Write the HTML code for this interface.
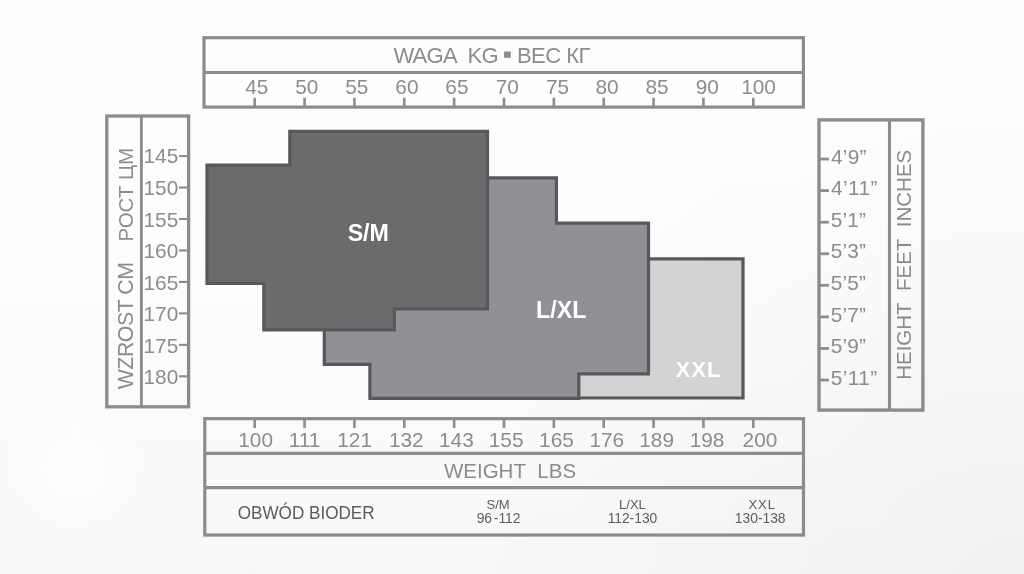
<!DOCTYPE html>
<html><head><meta charset="utf-8"><style>
html,body{margin:0;padding:0;}
body{width:1024px;height:574px;overflow:hidden;background:#fbfbfb;}
svg{display:block;will-change:transform;}
text{font-family:"Liberation Sans",Arial,sans-serif;}
.n{font-size:20.8px;fill:#8b8c90;}
.t{font-size:20.5px;fill:#8b8c90;}
.s{font-size:17.1px;fill:#5c5c5f;}
.s2{font-size:13px;fill:#5c5c5f;}
.s3{font-size:13.8px;fill:#5c5c5f;}
.b{font-size:23.2px;font-weight:bold;fill:#fff;}

</style></head><body>
<svg width="1024" height="574" viewBox="0 0 1024 574">
<defs>
<linearGradient id="bg" x1="0" y1="0" x2="0" y2="1"><stop offset="0" stop-color="#fefefe"/><stop offset="0.45" stop-color="#fdfdfd"/><stop offset="1" stop-color="#f8f8f8"/></linearGradient>
<radialGradient id="hl" cx="1024" cy="574" r="560" gradientUnits="userSpaceOnUse"><stop offset="0" stop-color="#000" stop-opacity="0.03"/><stop offset="1" stop-color="#000" stop-opacity="0"/></radialGradient>
<radialGradient id="hw" cx="75" cy="470" r="75" gradientUnits="userSpaceOnUse"><stop offset="0" stop-color="#fff" stop-opacity="0.75"/><stop offset="0.6" stop-color="#fff" stop-opacity="0.4"/><stop offset="1" stop-color="#fff" stop-opacity="0"/></radialGradient>
</defs>
<rect class="bgr" width="1024" height="574" fill="url(#bg)"/>
<rect class="bgr" width="1024" height="574" fill="url(#hl)"/>
<rect class="bgr" width="1024" height="574" fill="url(#hw)"/>
<rect x="204.0" y="37.7" width="599.4" height="69.4" fill="none" stroke="#8b8c90" stroke-width="3.2"/>
<line x1="204" y1="72.45" x2="803.4" y2="72.45" stroke="#8b8c90" stroke-width="3.1"/>
<rect x="253.40" y="97.75" width="2.6" height="8.5" fill="#8b8c90"/>
<text x="256.86" y="94.08" class="n" text-anchor="middle" style="">45</text>
<rect x="303.26" y="97.75" width="2.6" height="8.5" fill="#8b8c90"/>
<text x="306.73" y="94.08" class="n" text-anchor="middle" style="">50</text>
<rect x="353.12" y="97.75" width="2.6" height="8.5" fill="#8b8c90"/>
<text x="356.76" y="94.08" class="n" text-anchor="middle" style="">55</text>
<rect x="402.98" y="97.75" width="2.6" height="8.5" fill="#8b8c90"/>
<text x="406.93" y="94.08" class="n" text-anchor="middle" style="">60</text>
<rect x="452.84" y="97.75" width="2.6" height="8.5" fill="#8b8c90"/>
<text x="456.89" y="94.08" class="n" text-anchor="middle" style="">65</text>
<rect x="502.70" y="97.75" width="2.6" height="8.5" fill="#8b8c90"/>
<text x="507.36" y="94.08" class="n" text-anchor="middle" style="">70</text>
<rect x="552.56" y="97.75" width="2.6" height="8.5" fill="#8b8c90"/>
<text x="557.61" y="94.08" class="n" text-anchor="middle" style="">75</text>
<rect x="602.42" y="97.75" width="2.6" height="8.5" fill="#8b8c90"/>
<text x="606.99" y="94.08" class="n" text-anchor="middle" style="">80</text>
<rect x="652.28" y="97.75" width="2.6" height="8.5" fill="#8b8c90"/>
<text x="657.08" y="94.08" class="n" text-anchor="middle" style="">85</text>
<rect x="702.14" y="97.75" width="2.6" height="8.5" fill="#8b8c90"/>
<text x="707.24" y="94.08" class="n" text-anchor="middle" style="">90</text>
<rect x="752.00" y="97.75" width="2.6" height="8.5" fill="#8b8c90"/>
<text x="758.50" y="94.08" class="n" text-anchor="middle" style="">100</text>
<text x="445.63" y="62.92" class="t" text-anchor="middle" style="font-size:22px;letter-spacing:-0.75px">WAGA&#160; KG</text>
<text x="553.39" y="62.92" class="t" text-anchor="middle" style="font-size:22px;letter-spacing:-0.52px">ВЕС КГ</text>
<rect x="504.1" y="51.5" width="6.7" height="6.3" fill="#8b8c90"/>
<rect x="106.8" y="116.0" width="81.8" height="290.8" fill="none" stroke="#8b8c90" stroke-width="3.3"/>
<line x1="141.4" y1="116" x2="141.4" y2="407" stroke="#8b8c90" stroke-width="2.9"/>
<rect x="179.0" y="155.05" width="8.5" height="2.1" fill="#8b8c90"/>
<text x="160.90" y="163.28" class="n" text-anchor="middle" style="">145</text>
<rect x="179.0" y="186.51" width="8.5" height="2.1" fill="#8b8c90"/>
<text x="160.88" y="195.05" class="n" text-anchor="middle" style="">150</text>
<rect x="179.0" y="217.97" width="8.5" height="2.1" fill="#8b8c90"/>
<text x="160.90" y="226.96" class="n" text-anchor="middle" style="">155</text>
<rect x="179.0" y="249.43" width="8.5" height="2.1" fill="#8b8c90"/>
<text x="160.88" y="257.86" class="n" text-anchor="middle" style="">160</text>
<rect x="179.0" y="280.89" width="8.5" height="2.1" fill="#8b8c90"/>
<text x="160.90" y="289.77" class="n" text-anchor="middle" style="">165</text>
<rect x="179.0" y="312.35" width="8.5" height="2.1" fill="#8b8c90"/>
<text x="160.88" y="320.96" class="n" text-anchor="middle" style="">170</text>
<rect x="179.0" y="343.81" width="8.5" height="2.1" fill="#8b8c90"/>
<text x="160.90" y="352.63" class="n" text-anchor="middle" style="">175</text>
<rect x="179.0" y="375.27" width="8.5" height="2.1" fill="#8b8c90"/>
<text x="160.88" y="384.42" class="n" text-anchor="middle" style="">180</text>
<text transform="translate(133.34,325.89) rotate(-90)" class="t" text-anchor="middle" style="font-size:21.3px;letter-spacing:-0.45px">WZROST CM</text>
<text transform="translate(132.70,194.72) rotate(-90)" class="t" text-anchor="middle" style="">РОСТ ЦМ</text>
<rect x="819.0" y="119.9" width="103.9" height="290.2" fill="none" stroke="#8b8c90" stroke-width="3.4"/>
<line x1="889.5" y1="120" x2="889.5" y2="411" stroke="#8b8c90" stroke-width="3.1"/>
<rect x="820" y="157.65" width="8.9" height="2.8" fill="#8b8c90"/>
<text x="848.79" y="163.95" class="n" text-anchor="middle" style="letter-spacing:0.2px">4’9”</text>
<rect x="820" y="189.22" width="8.9" height="2.8" fill="#8b8c90"/>
<text x="854.52" y="194.95" class="n" text-anchor="middle" style="letter-spacing:0.45px">4’11”</text>
<rect x="820" y="220.79" width="8.9" height="2.8" fill="#8b8c90"/>
<text x="848.44" y="226.58" class="n" text-anchor="middle" style="letter-spacing:0.2px">5’1”</text>
<rect x="820" y="252.36" width="8.9" height="2.8" fill="#8b8c90"/>
<text x="848.44" y="258.28" class="n" text-anchor="middle" style="letter-spacing:0.2px">5’3”</text>
<rect x="820" y="283.93" width="8.9" height="2.8" fill="#8b8c90"/>
<text x="848.44" y="290.01" class="n" text-anchor="middle" style="letter-spacing:0.2px">5’5”</text>
<rect x="820" y="315.50" width="8.9" height="2.8" fill="#8b8c90"/>
<text x="848.44" y="321.86" class="n" text-anchor="middle" style="letter-spacing:0.2px">5’7”</text>
<rect x="820" y="347.07" width="8.9" height="2.8" fill="#8b8c90"/>
<text x="848.44" y="353.39" class="n" text-anchor="middle" style="letter-spacing:0.2px">5’9”</text>
<rect x="820" y="378.64" width="8.9" height="2.8" fill="#8b8c90"/>
<text x="854.23" y="385.00" class="n" text-anchor="middle" style="letter-spacing:0.45px">5’11”</text>
<text transform="translate(910.76,264.82) rotate(-90)" class="t" text-anchor="middle" style="">HEIGHT&#160; FEET&#160; INCHES</text>
<rect x="204.8" y="418.65" width="598.7" height="116.4" fill="none" stroke="#8b8c90" stroke-width="3.2"/>
<line x1="205" y1="453.3" x2="804" y2="453.3" stroke="#8b8c90" stroke-width="3.3"/>
<line x1="205" y1="487.7" x2="804" y2="487.7" stroke="#8b8c90" stroke-width="3.3"/>
<rect x="253.40" y="419.5" width="2.6" height="8.4" fill="#8b8c90"/>
<text x="255.62" y="447.08" class="n" text-anchor="middle" style="">100</text>
<rect x="303.26" y="419.5" width="2.6" height="8.4" fill="#8b8c90"/>
<text x="304.48" y="447.08" class="n" text-anchor="middle" style="">111</text>
<rect x="353.12" y="419.5" width="2.6" height="8.4" fill="#8b8c90"/>
<text x="354.61" y="447.08" class="n" text-anchor="middle" style="">121</text>
<rect x="402.98" y="419.5" width="2.6" height="8.4" fill="#8b8c90"/>
<text x="406.23" y="447.08" class="n" text-anchor="middle" style="">132</text>
<rect x="452.84" y="419.5" width="2.6" height="8.4" fill="#8b8c90"/>
<text x="456.37" y="447.08" class="n" text-anchor="middle" style="">143</text>
<rect x="502.70" y="419.5" width="2.6" height="8.4" fill="#8b8c90"/>
<text x="506.15" y="447.08" class="n" text-anchor="middle" style="">155</text>
<rect x="552.56" y="419.5" width="2.6" height="8.4" fill="#8b8c90"/>
<text x="556.45" y="447.08" class="n" text-anchor="middle" style="">165</text>
<rect x="602.42" y="419.5" width="2.6" height="8.4" fill="#8b8c90"/>
<text x="606.78" y="447.08" class="n" text-anchor="middle" style="">176</text>
<rect x="652.28" y="419.5" width="2.6" height="8.4" fill="#8b8c90"/>
<text x="656.61" y="447.08" class="n" text-anchor="middle" style="">189</text>
<rect x="702.14" y="419.5" width="2.6" height="8.4" fill="#8b8c90"/>
<text x="707.03" y="447.08" class="n" text-anchor="middle" style="">198</text>
<rect x="752.00" y="419.5" width="2.6" height="8.4" fill="#8b8c90"/>
<text x="759.95" y="447.01" class="n" text-anchor="middle" style="">200</text>
<text x="510.02" y="478.08" class="t" text-anchor="middle" style="">WEIGHT&#160; LBS</text>
<text transform="translate(306.16,518.65) scale(0.94,1)" class="s" text-anchor="middle" style="font-size:18.2px">OBWÓD BIODER</text>
<text x="498.09" y="508.73" class="s2" text-anchor="middle" style="">S/M</text>
<text x="498.58" y="522.82" class="s3" text-anchor="middle" style="">96<tspan dx="1.6">-</tspan><tspan dx="0.2">112</tspan></text>
<text x="632.44" y="508.56" class="s2" text-anchor="middle" style="">L/XL</text>
<text x="632.44" y="522.75" class="s3" text-anchor="middle" style="">112-130</text>
<text x="762.15" y="508.68" class="s2" text-anchor="middle" style="letter-spacing:0.9px">XXL</text>
<text x="760.18" y="522.83" class="s3" text-anchor="middle" style="">130-138</text>
<path d="M560 258.8 H743 V398 H560 Z" fill="#d2d3d5" stroke="#58585b" stroke-width="3.2"/>
<path d="M480 177.9 H556.4 V223.2 H648.5 V373.9 H578.8 V398.4 H369.9 V364.3 H324.3 V300 H480 Z" fill="#909195" stroke="#58585b" stroke-width="3.2"/>
<path d="M207 165.1 H289.8 V131.3 H487.5 V308.9 H394.3 V329.9 H263.8 V283.5 H207 Z" fill="#6b6b6e" stroke="#58585b" stroke-width="3.2"/>
<text x="368.25" y="240.50" class="b" text-anchor="middle" style="">S/M</text>
<text x="561.19" y="317.83" class="b" text-anchor="middle" style="">L/XL</text>
<text x="698.59" y="376.88" class="b" text-anchor="middle" style="font-size:21.6px;letter-spacing:1.2px">XXL</text>
</svg>
</body></html>
